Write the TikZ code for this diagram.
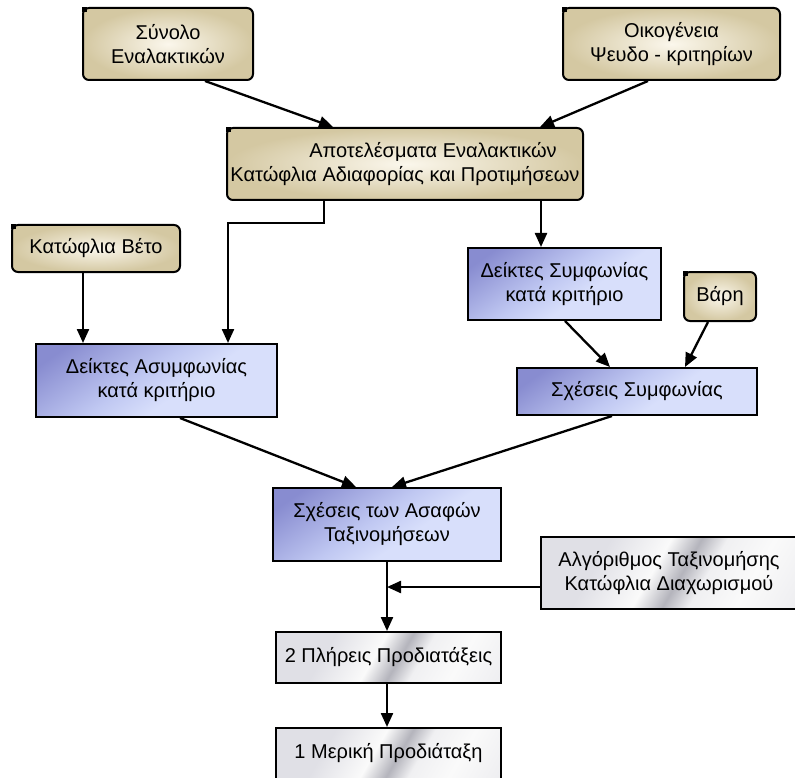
\documentclass[tikz,border=0pt]{standalone}
\usepackage{fontspec}
\setmainfont{Liberation Sans}
\usetikzlibrary{arrows.meta,calc}

\definecolor{tanDark}{RGB}{212,200,162}
\definecolor{tanLight}{RGB}{251,247,236}
\definecolor{blueA}{RGB}{136,140,208}
\definecolor{blueB}{RGB}{192,200,242}
\definecolor{blueC}{RGB}{216,223,251}
\definecolor{blueD}{RGB}{178,194,170}
\definecolor{greyA}{RGB}{224,224,230}
\definecolor{greyB}{RGB}{250,250,250}
\definecolor{greyC}{RGB}{180,180,188}
\definecolor{greyD}{RGB}{240,240,242}

\pgfdeclarehorizontalshading{bluebox}{100bp}{%
  color(0bp)=(blueA); color(22bp)=(blueA); color(46bp)=(blueB);
  color(58bp)=(blueC); color(88bp)=(blueC); color(93bp)=(blueD); color(100bp)=(blueD)}
\pgfdeclarehorizontalshading{greybox}{100bp}{%
  color(0bp)=(greyA); color(32bp)=(greyA); color(46bp)=(greyB);
  color(53bp)=(greyC); color(59bp)=(greyD); color(70bp)=(greyB); color(100bp)=(greyA)}

\tikzset{
  boxtext/.style={font=\fontsize{20}{24}\selectfont, align=center,
    inner sep=0pt, line width=2pt, draw=black},
  tanbox/.style={boxtext, rounded corners=6pt, inner color=tanLight, outer color=tanDark},
  bluenode/.style={boxtext, shading=bluebox, shading angle=-55},
  greynode/.style={boxtext, shading=greybox, shading angle=-30},
  link/.style={line width=2.3pt, -{Triangle[length=14pt,width=12pt]}},
  cornermark/.style={fill=black}
}

\begin{document}
\begin{tikzpicture}[x=1pt,y=-1pt]
\useasboundingbox (0,0) rectangle (795,778);

% input boxes (rounded, tan)
\node[tanbox, minimum width=170pt, minimum height=72pt] (syn) at (168,44)
  {Σύνολο\\Εναλακτικών};
\node[tanbox, minimum width=217pt, minimum height=72pt] (oik) at (671.5,44)
  {Οικογένεια\\Ψευδο - κριτηρίων};
\node[tanbox, minimum width=356pt, minimum height=72pt] (apo) at (405,164)
  {\hspace*{56pt}Αποτελέσματα Εναλακτικών\\Κατώφλια Αδιαφορίας και Προτιμήσεων};
\node[tanbox, minimum width=168pt, minimum height=47pt] (veto) at (96,248.5)
  {Κατώφλια Βέτο};
\node[tanbox, minimum width=72pt, minimum height=49pt] (bari) at (720,296.5)
  {Βάρη};

\foreach \n in {syn,oik,apo,veto,bari}
  \fill[cornermark] (\n.north west) rectangle ++(5,5);

% intermediate results (blue)
\node[bluenode, minimum width=241pt, minimum height=73pt] (dasym) at (156.5,380.5)
  {Δείκτες Ασυμφωνίας\\κατά κριτήριο};
\node[bluenode, minimum width=193pt, minimum height=72pt] (dsym) at (564.5,284)
  {Δείκτες Συμφωνίας\\κατά κριτήριο};
\node[bluenode, minimum width=240pt, minimum height=47pt] (ssym) at (637,391.5)
  {Σχέσεις Συμφωνίας};
\node[bluenode, minimum width=228pt, minimum height=73pt] (sas) at (387,524.5)
  {Σχέσεις των Ασαφών\\Ταξινομήσεων};

% final stages (grey)
\node[greynode, minimum width=256pt, minimum height=72pt] (alg) at (669,573)
  {Αλγόριθμος Ταξινομήσης\\Κατώφλια Διαχωρισμού};
\node[greynode, minimum width=225pt, minimum height=51pt] (pl) at (388.5,657.5)
  {2 Πλήρεις Προδιατάξεις};
\node[greynode, minimum width=225pt, minimum height=51pt] (mer) at (388.5,753.5)
  {1 Μερική Προδιάταξη};

% connectors
\draw[link] (syn.south -| 205,0) -- (apo.north -| 333,0);
\draw[link] (oik.south -| 648,0) -- (apo.north -| 540,0);
\coordinate (bendA) at (324,223);
\coordinate (bendB) at (228,223);
\draw[link] (apo.south -| bendA) -- (bendA) -- (bendB) -- (dasym.north -| bendB);
\draw[link] (apo.south -| 541,0) -- (dsym.north -| 541,0);
\draw[link] (veto.south -| 83,0) -- (dasym.north -| 83,0);
\draw[link] (dsym.south -| 565,0) -- (ssym.north -| 610,0);
\draw[link] (bari.south -| 708,0) -- (ssym.north -| 685,0);
\draw[link] (dasym.south -| 180,0) -- (sas.north -| 356,0);
\draw[link] (ssym.south -| 612,0) -- (sas.north -| 392,0);
\draw[link] (sas.south -| 387,0) -- (pl.north -| 387,0);
\coordinate (join) at (387,587);
\draw[link] (alg.west |- join) -- (join);
\draw[link] (pl.south -| 387,0) -- (mer.north -| 387,0);
\end{tikzpicture}
\end{document}
